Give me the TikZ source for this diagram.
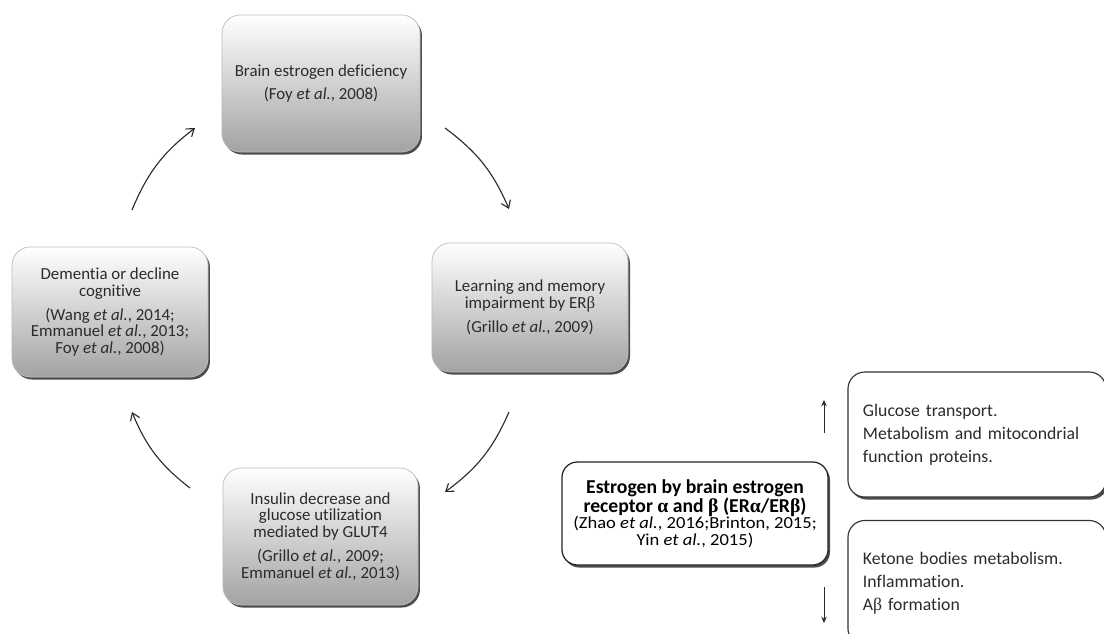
\documentclass[tikz,border=0pt]{standalone}
\usepackage{fontspec}
\setmainfont{Carlito}[Ligatures=NoCommon]
\newfontfamily\citefont{Carlito}[FakeStretch=1.1, Ligatures=NoCommon]
\newfontfamily\grk{Liberation Serif}
\usepackage{xcolor}
\usepackage{tikz}
\usetikzlibrary{arrows.meta,shadows}
\definecolor{ink}{HTML}{2B2B2B}
\definecolor{boxgray}{HTML}{A3A3A3}
\definecolor{rim}{HTML}{BDBDBD}
\definecolor{shade}{HTML}{3A3A3A}
\tikzset{
  cycbox/.style={draw=rim, line width=0.5pt, rounded corners=13pt,
    top color=white, middle color=white, bottom color=boxgray,
    drop shadow={shadow xshift=1.4pt, shadow yshift=-1.8pt, fill=shade, opacity=0.9},
    align=center, text=ink, font=\fontsize{12}{11.9}\selectfont},
  keybox/.style={draw=black!85, line width=0.9pt, rounded corners=11pt, fill=white,
    drop shadow={shadow xshift=1.4pt, shadow yshift=-1.8pt, fill=shade, opacity=0.9},
    align=center, text=black},
  effbox/.style={draw=black!80, line width=0.8pt, rounded corners=12pt, fill=white,
    drop shadow={shadow xshift=1.4pt, shadow yshift=-1.8pt, fill=shade, opacity=0.9},
    align=left, text=ink, inner xsep=0.375cm, text width=5.7cm,
    font=\fontsize{12.6}{16.4}\selectfont},
  loop/.style={draw=ink, line width=0.8pt, -{Straight Barb[length=5pt,width=7pt]}},
  updown/.style={draw=ink, line width=0.7pt, -{Stealth[length=4.5pt,width=4pt]}},
}
\newcommand{\etal}{\textit{et al.}}
\newcommand{\bigb}{\fontsize{14}{13.5}\selectfont\bfseries}
\newcommand{\citesz}{\citefont\fontsize{12}{12.1}\selectfont\mdseries}

\begin{document}
\begin{tikzpicture}[x=0.025cm, y=-0.025cm]
  \useasboundingbox (0,0) rectangle (1104,633);
  % cycle
  \node[cycbox, minimum width=4.95cm, minimum height=3.425cm] (brain) at (321,83.5)
    {Brain estrogen deficiency\\[5pt](Foy \etal, 2008)};
  \node[cycbox, minimum width=4.9cm, minimum height=3.225cm] (memory) at (530,307.5)
    {Learning and memory\\impairment by ER{\grk β}\\[5pt](Grillo \etal, 2009)};
  \node[cycbox, minimum width=4.875cm, minimum height=3.425cm] (insulin) at (320.5,536.5)
    {Insulin decrease and\\glucose utilization\\mediated by GLUT4\\[5pt](Grillo \etal, 2009;\\Emmanuel \etal, 2013)};
  \node[cycbox, minimum width=4.9cm, minimum height=3.25cm] (dementia) at (110,312)
    {Dementia or decline\\cognitive\\[5pt](Wang \etal, 2014;\\Emmanuel \etal, 2013;\\Foy \etal, 2008)};

  \coordinate (a1s) at (132,210); \coordinate (a1e) at (195,128);
  \coordinate (a2s) at (445,128); \coordinate (a2e) at (509,209);
  \coordinate (a3s) at (509,412); \coordinate (a3e) at (445,492);
  \coordinate (a4s) at (190,488); \coordinate (a4e) at (132,412);
  \draw[loop] (a1s) to[bend left=15] (a1e);
  \draw[loop] (a2s) to[bend left=15] (a2e);
  \draw[loop] (a3s) to[bend left=15] (a3e);
  \draw[loop] (a4s) to[bend left=15] (a4e);

  % receptor and its effects
  \node[keybox, minimum width=6.65cm, minimum height=2.575cm] (receptor) at (695,513.5)
    {\bigb Estrogen by brain estrogen\\
     \bigb receptor {\grk α} and {\grk β} (ER{\grk α}/ER{\grk β})\\[-1pt]
     \citesz (Zhao \etal, 2016;Brinton, 2015;\\\citesz Yin \etal, 2015)};
  \node[effbox, minimum height=3.125cm] (raised) at (977,434.5)
    {Glucose transport.\\Metabolism and mitocondrial\\function proteins.};
  \node[effbox, minimum height=3.125cm] (lowered) at (977,583)
    {Ketone bodies metabolism.\\Inflammation.\\A{\grk β} formation};

  \coordinate (upS) at (824,433); \coordinate (upE) at (824,400);
  \coordinate (dnS) at (824,587); \coordinate (dnE) at (824,623);
  \draw[updown] (upS) -- (upE);
  \draw[updown] (dnS) -- (dnE);
\end{tikzpicture}
\end{document}
